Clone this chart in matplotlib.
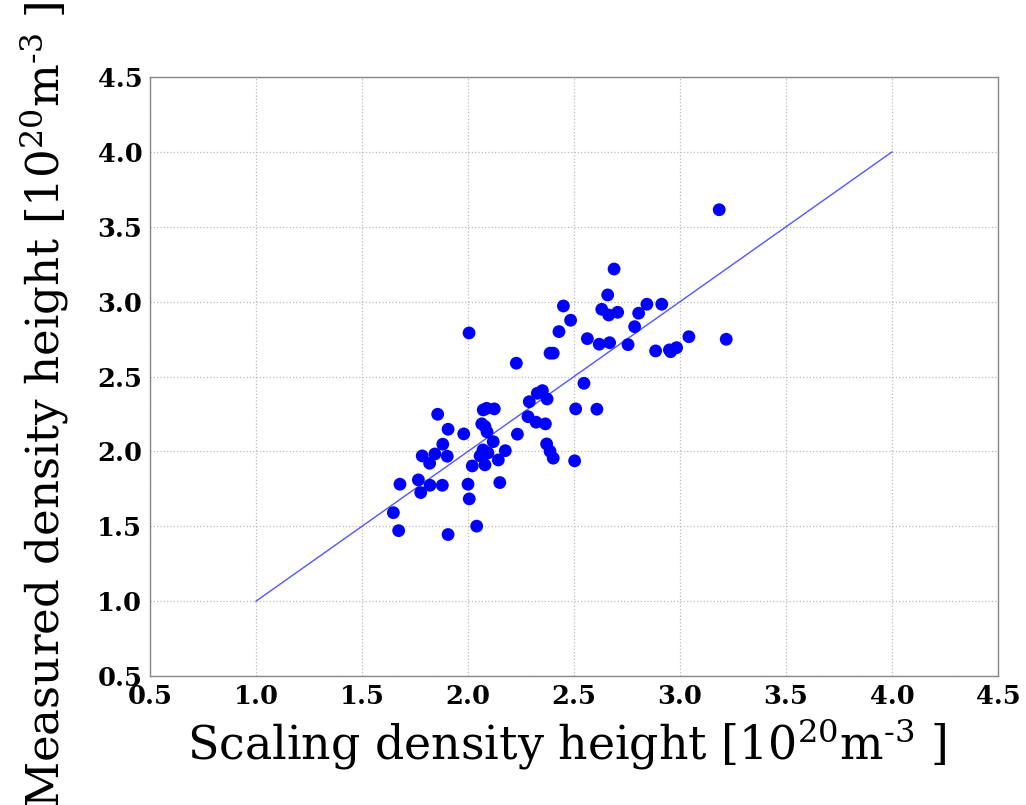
import numpy as np
import matplotlib
matplotlib.use("Agg")
import matplotlib.pyplot as plt

# scaling vs measured density height, 1e20 m^-3
scaling = [1.648, 1.673, 1.679, 1.766, 1.777, 1.821, 1.879, 1.784, 1.844, 1.819,
           1.902, 1.881, 1.857, 1.906, 1.980, 1.906, 2.000, 2.006, 2.041, 2.020,
           2.005, 2.072, 2.088, 2.124, 2.065, 2.080, 2.090, 2.119, 2.071, 2.094,
           2.057, 2.080, 2.143, 2.176, 2.150, 2.233, 2.228, 2.289, 2.327, 2.351,
           2.373, 2.283, 2.321, 2.365, 2.371, 2.387, 2.402, 2.503, 2.508, 2.547,
           2.608, 2.387, 2.402, 2.429, 2.450, 2.484, 2.563, 2.619, 2.668, 2.631,
           2.664, 2.706, 2.659, 2.689, 2.755, 2.786, 2.805, 2.844, 2.914, 2.885,
           2.950, 2.956, 2.984, 3.042, 3.218, 3.185]
measured = [1.591, 1.471, 1.781, 1.810, 1.725, 1.774, 1.774, 1.970, 1.983, 1.921,
            1.968, 2.048, 2.248, 2.148, 2.117, 1.445, 1.781, 1.683, 1.501, 1.903,
            2.791, 2.277, 2.288, 2.284, 2.184, 2.166, 2.130, 2.065, 2.010, 1.990,
            1.970, 1.910, 1.943, 2.005, 1.792, 2.115, 2.589, 2.332, 2.388, 2.406,
            2.350, 2.232, 2.195, 2.184, 2.050, 2.001, 1.955, 1.937, 2.284, 2.455,
            2.282, 2.656, 2.656, 2.800, 2.971, 2.876, 2.753, 2.716, 2.726, 2.949,
            2.911, 2.929, 3.045, 3.218, 2.713, 2.833, 2.923, 2.983, 2.983, 2.671,
            2.678, 2.666, 2.693, 2.766, 2.749, 3.614]
ref_line = [1.0, 4.0]
ticks = [0.5, 1.0, 1.5, 2.0, 2.5, 3.0, 3.5, 4.0, 4.5]

plt.rcParams['mathtext.fontset'] = 'dejavuserif'

fig = plt.figure(figsize=(10.26, 8.05), dpi=100)
ax = fig.add_axes([0.1462, 0.1602, 0.8265, 0.7441])

ax.plot(ref_line, ref_line, color='#5555ff', linewidth=1.0, zorder=2)
ax.scatter(scaling, measured, s=85, color='#0000ff', edgecolors='none', zorder=3)

ax.set_xlim(0.5, 4.5)
ax.set_ylim(0.5, 4.5)
ax.set_xticks(ticks)
ax.set_yticks(ticks)
ax.set_xticklabels(["%.1f" % t for t in ticks], fontfamily='DejaVu Serif',
                   fontweight='bold', fontsize=18.5)
ax.set_yticklabels(["%.1f" % t for t in ticks], fontfamily='DejaVu Serif',
                   fontweight='bold', fontsize=18.5)
ax.tick_params(axis='y', direction='in', length=0, pad=5.5)
ax.tick_params(axis='x', direction='in', length=0, pad=6)
ax.grid(True, color='#bbbbbb', linestyle=':', linewidth=0.9)
for s in ax.spines.values():
    s.set_color('#888888')
    s.set_linewidth(1.0)

ax.set_xlabel(r"Scaling density height [$10^{20}$m$^{\text{-}3}$ ]",
              fontfamily='DejaVu Serif', fontsize=33)
ax.set_ylabel(r"Measured density height [$10^{20}$m$^{\text{-}3}$ ]",
              fontfamily='DejaVu Serif', fontsize=32.5)
ax.xaxis.set_label_coords(0.4917, -0.068)
ax.yaxis.set_label_coords(-0.093, 0.452)

fig.savefig("out.png", dpi=100)
